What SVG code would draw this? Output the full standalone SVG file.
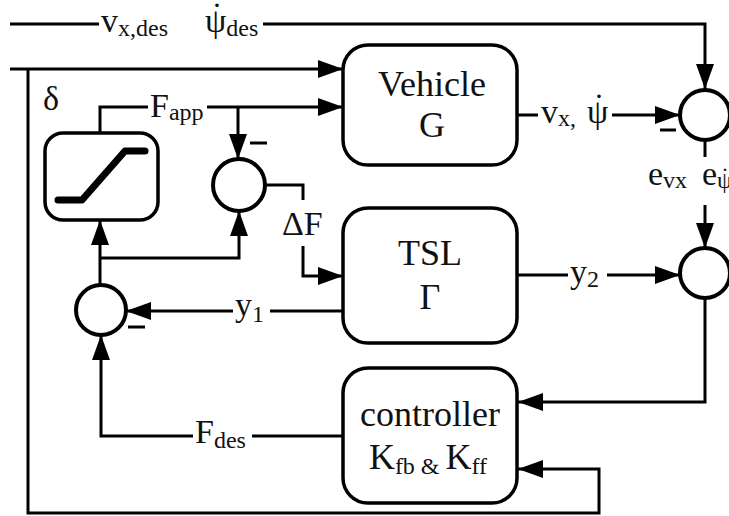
<svg xmlns="http://www.w3.org/2000/svg" width="729" height="516" viewBox="0 0 729 516">
<style>
.box{fill:#fff;stroke:#000;stroke-width:3.5}
.sum{fill:#fff;stroke:#000;stroke-width:4}
.wire{fill:none;stroke:#000;stroke-width:3}
.arr{marker-end:url(#ah)}
.lbl{font-family:"Liberation Serif","Times New Roman",serif;font-size:34px;fill:#111}
.big{font-family:"Liberation Serif","Times New Roman",serif;font-size:36px;fill:#111;text-anchor:middle}
.sub{font-size:24px}
.dot{text-anchor:middle}
</style>
<defs>
<marker id="ah" markerUnits="userSpaceOnUse" markerWidth="25" markerHeight="18" refX="25" refY="9" orient="auto">
<path d="M0,0 L25,9 L0,18 z" fill="#000"/>
</marker>
</defs>
<rect width="729" height="516" fill="#fff"/>
<g id="connectors">
<path class="wire" d="M10,24 H99"/>
<path class="wire arr" d="M263,24 H705 V89"/>
<path class="wire arr" d="M10,69 H343"/>
<path class="wire arr" d="M28,69 V513 H599 V469 H518"/>
<path class="wire" d="M100,133 V107 H148"/>
<path class="wire arr" d="M207,107 H343"/>
<path class="wire arr" d="M238,107 V159"/>
<path class="wire" d="M265,185 H303 V200"/>
<path class="wire arr" d="M303,246 V276 H343"/>
<path class="wire arr" d="M100,285 V220"/>
<path class="wire arr" d="M100,258 H239 V211"/>
<path class="wire" d="M343,311 H270"/>
<path class="wire arr" d="M233,311 H126"/>
<path class="wire" d="M343,436 H252"/>
<path class="wire arr" d="M193,436 H101 V335"/>
<path class="wire" d="M517,115 H538"/>
<path class="wire arr" d="M612,115 H680"/>
<path class="wire" d="M705,140 V157"/>
<path class="wire arr" d="M705,205 V248"/>
<path class="wire" d="M517,275 H568"/>
<path class="wire arr" d="M607,275 H680"/>
<path class="wire arr" d="M705,298 V402 H518"/>
<path class="wire" d="M250,143 H267 M660,130 H676 M128,327 H145"/>
</g>
<g id="vehicle">
<rect class="box" x="343" y="45" width="174" height="120" rx="25"/>
<text class="big" x="432" y="96">Vehicle</text>
<text class="big" x="432" y="137">G</text>
</g>
<g id="tsl">
<rect class="box" x="343" y="208" width="174" height="135" rx="25"/>
<text class="big" x="430" y="265">TSL</text>
<text class="big" x="430" y="309">Γ</text>
</g>
<g id="controller">
<rect class="box" x="343" y="368" width="174" height="135" rx="25"/>
<text class="big" x="430" y="426">controller</text>
<text class="big" x="428" y="469">K<tspan class="sub" dy="5">fb &amp; </tspan><tspan dy="-5">K</tspan><tspan class="sub" dy="5">ff</tspan></text>
</g>
<g id="saturation">
<rect class="box" x="45" y="133" width="113" height="87" rx="18"/>
<path d="M58,200 H82 L125,151 H145" fill="none" stroke="#000" stroke-width="7" stroke-linecap="round" stroke-linejoin="round"/>
</g>
<g id="sum1"><circle class="sum" cx="705" cy="115" r="25"/></g>
<g id="sum2"><circle class="sum" cx="705" cy="273" r="25"/></g>
<g id="sum3"><circle class="sum" cx="239" cy="185" r="26"/></g>
<g id="sum4"><circle class="sum" cx="101" cy="310" r="25"/></g>
<g id="labels">
<text class="lbl" x="101" y="32">v<tspan class="sub" dy="4">x,des</tspan></text>
<text class="lbl" x="205" y="32">ψ<tspan class="sub" dy="4">des</tspan></text>
<text class="lbl dot" x="217" y="26">˙</text>
<text class="lbl" x="43" y="110">δ</text>
<text class="lbl" x="150" y="117">F<tspan class="sub" dy="3">app</tspan></text>
<text class="lbl" x="282" y="235">ΔF</text>
<text class="lbl" x="235" y="316">y<tspan class="sub" dy="6">1</tspan></text>
<text class="lbl" x="195" y="443">F<tspan class="sub" dy="5">des</tspan></text>
<text class="lbl" x="541" y="123">v<tspan class="sub" dy="3">x,</tspan></text>
<text class="lbl" x="587" y="123">ψ</text>
<text class="lbl dot" x="599" y="117">˙</text>
<text class="lbl" x="570" y="283">y<tspan class="sub" dy="4">2</tspan></text>
<text class="lbl" x="648" y="185">e<tspan class="sub" dy="3">vx</tspan></text>
<text class="lbl" x="702" y="185">e<tspan class="sub" dy="3">ψ</tspan></text>
<text class="lbl sub dot" x="725" y="184">˙</text>
</g>
</svg>
